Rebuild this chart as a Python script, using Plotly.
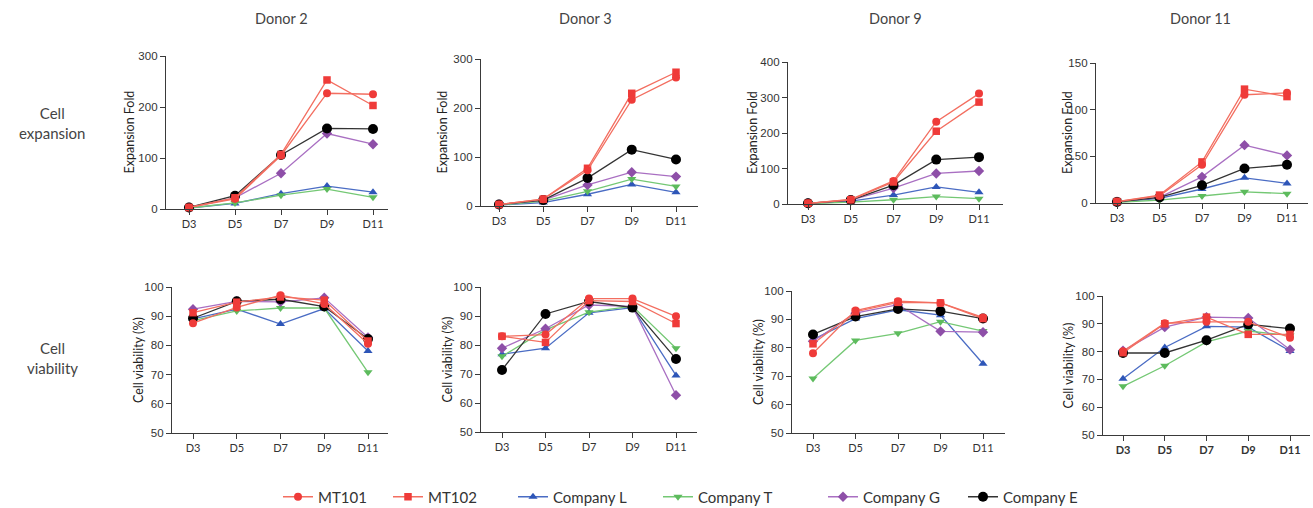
import plotly.graph_objects as go

# ---- data -------------------------------------------------------------
days = [3, 5, 7, 9, 11]
day_labels = ["D3", "D5", "D7", "D9", "D11"]
donors = ["Donor 2", "Donor 3", "Donor 9", "Donor 11"]
series = ["MT101", "MT102", "Company L", "Company T", "Company G", "Company E"]

# expansion fold per donor
exp_mt101 = [[3, 20, 105, 227, 225], [3, 14, 73, 217, 262], [2, 13, 65, 232, 311], [1.5, 7.5, 41, 116, 118]]
exp_mt102 = [[3, 22, 107, 253, 203], [3, 14, 77, 230, 273], [2, 12, 62, 205, 287], [1.5, 8.5, 44, 122, 114]]
exp_coL = [[2, 11, 30, 45, 33], [2, 7, 24, 44, 28], [1, 8, 25, 48, 33], [1, 5, 15, 27, 21]]
exp_coT = [[2, 12, 27, 39, 23], [2, 10, 30, 55, 40], [1, 5, 12, 21, 15], [0.8, 3, 7.5, 12, 10]]
exp_coG = [[3, 22, 70, 148, 127], [3, 12, 43, 69, 60], [2, 11, 45, 86, 93], [1.5, 6, 28, 62, 51]]
exp_coE = [[3, 26, 106, 158, 157], [3, 12, 57, 115, 95], [2, 11, 53, 125, 132], [1.2, 6, 19, 37, 41]]

# cell viability (%) per donor
via_mt101 = [[87.6, 93.0, 97.2, 94.2, 80.6], [83.0, 83.6, 96.0, 96.0, 89.9], [78.1, 93.1, 96.4, 95.8, 90.7], [80.1, 90.2, 90.7, 90.7, 85.0]]
via_mt102 = [[91.2, 94.8, 96.6, 95.5, 81.5], [83.0, 80.9, 95.3, 95.0, 87.4], [81.4, 92.7, 96.0, 95.8, 90.3], [79.6, 90.0, 92.4, 86.2, 86.2]]
via_coL = [[89.1, 92.4, 87.3, 92.6, 78.1], [76.8, 78.9, 91.1, 92.9, 69.5], [82.9, 90.3, 93.4, 91.5, 74.4], [70.2, 81.5, 89.1, 88.8, 80.2]]
via_coT = [[88.5, 91.8, 92.8, 92.8, 70.8], [76.1, 85.2, 91.3, 93.4, 78.9], [69.2, 82.6, 85.1, 89.2, 85.9], [67.5, 74.9, 83.5, 87.4, 85.8]]
via_coG = [[92.4, 95.1, 94.9, 96.3, 82.7], [78.9, 85.6, 93.8, 93.3, 62.7], [82.3, 92.2, 95.2, 85.8, 85.5], [80.3, 88.8, 92.4, 92.1, 80.7]]
via_coE = [[89.3, 95.1, 95.8, 93.3, 82.2], [71.4, 90.7, 95.0, 92.9, 75.2], [84.7, 91.0, 93.7, 92.9, 90.3], [79.5, 79.5, 84.1, 89.8, 88.3]]

exp_ranges = [300, 300, 400, 150]
exp_dticks = [100, 100, 100, 50]

# ---- styling ----------------------------------------------------------
W, H = 1313, 508
style = {
    "MT101":     dict(line="#F36E60", mk="#EF3B39", sym="circle", size=8),
    "MT102":     dict(line="#F36E60", mk="#EF3B39", sym="square", size=7.5),
    "Company L": dict(line="#4A6CC4", mk="#2E56B8", sym="triangle-up", size=8),
    "Company T": dict(line="#74C874", mk="#5DBB5D", sym="triangle-down", size=8),
    "Company G": dict(line="#A96FC2", mk="#8E4FA8", sym="diamond", size=8),
    "Company E": dict(line="#333333", mk="#000000", sym="circle", size=10),
}
draw_order = ["Company L", "Company T", "Company G", "Company E", "MT102", "MT101"]
# each series gets its own legend box so the key entries sit where they belong
legend_marker_x = {"MT101": 300, "MT102": 410, "Company L": 535,
                   "Company T": 680, "Company G": 845, "Company E": 985}

# panel geometry in pixels: y-axis x, axis end x, D3 x, D11 x, top y, bottom y
panels_top = [(166, 388, 189, 373, 56, 209), (481, 698, 499, 676, 59, 206),
              (788, 1003, 808, 979, 62, 204), (1096, 1308, 1117, 1287, 63, 203)]
panels_bot = [(172, 388, 193, 368, 287, 433), (481, 697, 502, 676, 287, 432),
              (792, 1005, 813, 983, 291, 433), (1103, 1310, 1123, 1290, 296, 435)]

TEXT = "#444444"
AX = "#3a3a3a"
LABEL_FONT = "Lato, 'Open Sans', sans-serif"
NUM_FONT = "'Liberation Sans', Arial, sans-serif"

fig = go.Figure()
layout = {}
annotations = []

exp_data = {"MT101": exp_mt101, "MT102": exp_mt102, "Company L": exp_coL,
            "Company T": exp_coT, "Company G": exp_coG, "Company E": exp_coE}
via_data = {"MT101": via_mt101, "MT102": via_mt102, "Company L": via_coL,
            "Company T": via_coT, "Company G": via_coG, "Company E": via_coE}

legend_ids = {name: ("legend" if k == 0 else f"legend{k + 1}") for k, name in enumerate(series)}


def add_panel(idx, geom, yr, dtick, ytitle, data, di, bold=False):
    x0, x1, d3, d11, yt, yb = geom
    ppd = (d11 - d3) / 8.0
    xr = [3 - (d3 - x0) / ppd, 11 + (x1 - d11) / ppd]
    xa = "xaxis" if idx == 1 else f"xaxis{idx}"
    ya = "yaxis" if idx == 1 else f"yaxis{idx}"
    ticktext = [f"<b>{t}</b>" for t in day_labels] if bold else day_labels
    layout[xa] = dict(domain=[x0 / W, x1 / W], range=xr, anchor=f"y{idx}",
                      tickvals=days, ticktext=ticktext, ticks="outside", ticklen=5,
                      tickwidth=1.2, tickcolor=AX, showline=True, linecolor=AX, linewidth=1.3,
                      showgrid=False, zeroline=False,
                      tickfont=dict(family=LABEL_FONT, size=11, color="#333"))
    layout[ya] = dict(domain=[1 - yb / H, 1 - yt / H], range=yr, anchor=f"x{idx}",
                      tickmode="linear", tick0=yr[0], dtick=dtick, ticks="outside", ticklen=5,
                      tickwidth=1.2, tickcolor=AX, showline=True, linecolor=AX, linewidth=1.3,
                      showgrid=False, zeroline=False,
                      tickfont=dict(family=NUM_FONT, size=11.5, color="#333"))
    ytitle_x = {1: 129, 2: 442, 3: 752, 4: 1067, 5: 138, 6: 447, 7: 758, 8: 1068}[idx]
    annotations.append(dict(text=ytitle, x=ytitle_x / W, y=1 - (yt + yb) / 2 / H,
                            xref="paper", yref="paper", showarrow=False, textangle=-90,
                            xanchor="center", yanchor="middle",
                            font=dict(family=LABEL_FONT, size=12.5, color="#222")))
    for name in draw_order:
        s = style[name]
        fig.add_trace(go.Scatter(
            x=days, y=data[name][di], mode="lines+markers", name=name,
            legendgroup=name, showlegend=(idx == 1), legend=legend_ids[name],
            xaxis=f"x{idx}", yaxis=f"y{idx}", cliponaxis=False,
            line=dict(color=s["line"], width=1.3),
            marker=dict(symbol=s["sym"], size=s["size"], color=s["mk"],
                        line=dict(width=0)),
        ))


for i in range(4):
    add_panel(i + 1, panels_top[i], [0, exp_ranges[i]], exp_dticks[i], "Expansion Fold", exp_data, i)
for i in range(4):
    add_panel(i + 5, panels_bot[i], [50, 100], 10, "Cell viability (%)", via_data, i, bold=(i == 3))

# column titles
for name, cx in zip(donors, [281, 585, 895, 1200]):
    annotations.append(dict(text=name, x=cx / W, y=1 - 18 / H, xref="paper", yref="paper",
                            showarrow=False, xanchor="center", yanchor="middle",
                            font=dict(family=LABEL_FONT, size=14.5, color=TEXT)))
# row labels
for txt, cy in [("Cell<br>expansion", 123), ("Cell<br>viability", 358)]:
    annotations.append(dict(text=txt, x=52 / W, y=1 - cy / H, xref="paper", yref="paper",
                            showarrow=False, xanchor="center", yanchor="middle",
                            font=dict(family=LABEL_FONT, size=15, color=TEXT)))

for name in series:
    layout[legend_ids[name]] = dict(
        orientation="h", x=(legend_marker_x[name] - 22) / W, xanchor="left",
        y=1 - 497 / H, yanchor="middle", bgcolor="rgba(0,0,0,0)",
        font=dict(family=LABEL_FONT, size=15, color="#333"), itemwidth=30)

fig.update_layout(
    width=W, height=H, margin=dict(l=0, r=0, t=0, b=0, autoexpand=False),
    paper_bgcolor="white", plot_bgcolor="white",
    annotations=annotations,
    **layout,
)

fig.write_html("out.html")
